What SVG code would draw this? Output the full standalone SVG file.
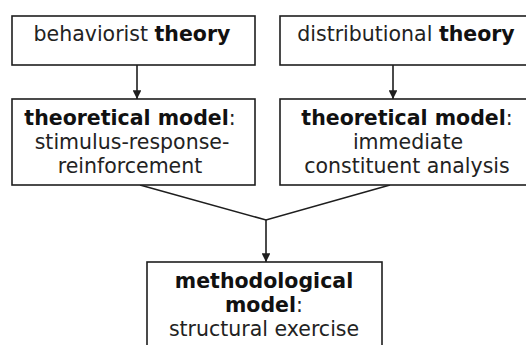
<svg xmlns="http://www.w3.org/2000/svg" width="526" height="345" viewBox="0 0 526 345">
  <style>
    .box { fill: #ffffff; stroke: #1e1e1e; stroke-width: 1.6; }
    .label { font-family: "DejaVu Sans", Verdana, sans-serif; font-size: 20.5px; fill: #222222; text-anchor: middle; }
    .b { font-weight: bold; fill: #111111; }
    .edge { fill: none; stroke: #1e1e1e; stroke-width: 1.6; }
  </style>
  <defs>
    <marker id="arrow" viewBox="0 0 10 10" refX="10" refY="5" markerWidth="5.5" markerHeight="5.5" markerUnits="strokeWidth" orient="auto">
      <path d="M0,0 L10,5 L0,10 Z" fill="#1e1e1e"/>
    </marker>
  </defs>
  <rect width="526" height="345" fill="#ffffff"/>

  <g id="connectors">
    <line class="edge" x1="137" y1="65" x2="137" y2="99" marker-end="url(#arrow)"/>
    <line class="edge" x1="393" y1="65" x2="393" y2="99" marker-end="url(#arrow)"/>
    <polyline class="edge" points="140,185 266,220 390,185"/>
    <line class="edge" x1="266" y1="220" x2="266" y2="262" marker-end="url(#arrow)"/>
  </g>

  <g id="behaviorist-theory">
    <rect class="box" x="12" y="16" width="243" height="49"/>
    <text class="label" x="132" y="41">behaviorist <tspan class="b">theory</tspan></text>
  </g>

  <g id="distributional-theory">
    <rect class="box" x="280" y="16" width="252" height="49"/>
    <text class="label" x="406" y="41">distributional <tspan class="b">theory</tspan></text>
  </g>

  <g id="model-stimulus-response">
    <rect class="box" x="12" y="99" width="243" height="86"/>
    <text class="label" x="130" y="125"><tspan class="b">theoretical model</tspan>:</text>
    <text class="label" x="132" y="149">stimulus-response-</text>
    <text class="label" x="130" y="173">reinforcement</text>
  </g>

  <g id="model-immediate-constituent">
    <rect class="box" x="280" y="99" width="252" height="86"/>
    <text class="label" x="407" y="125"><tspan class="b">theoretical model</tspan>:</text>
    <text class="label" x="408" y="149">immediate</text>
    <text class="label" x="407" y="173">constituent analysis</text>
  </g>

  <g id="methodological-model">
    <rect class="box" x="147" y="262" width="235" height="90"/>
    <text class="label" x="264" y="288"><tspan class="b">methodological</tspan></text>
    <text class="label" x="264" y="312"><tspan class="b">model</tspan>:</text>
    <text class="label" x="264" y="336">structural exercise</text>
  </g>
</svg>
